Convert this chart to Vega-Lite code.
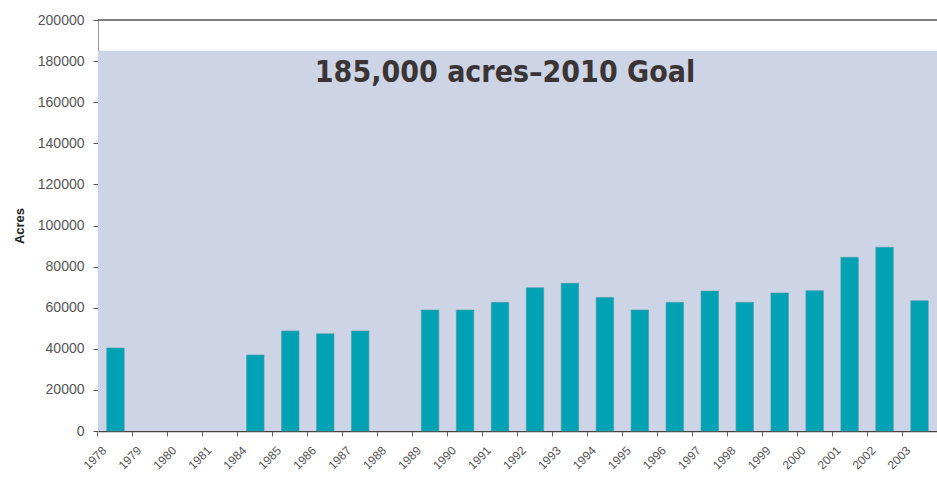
{
  "$schema": "https://vega.github.io/schema/vega-lite/v6.json",
  "width": 839,
  "height": 411,
  "autosize": {"type": "none"},
  "padding": {"left": 98, "top": 20, "right": 0, "bottom": 47},
  "background": "#ffffff",
  "config": {"view": {"stroke": null}, "font": "Liberation Sans"},
  "layer": [
    {
      "data": {"values": [{"low": 0, "high": 185000}]},
      "mark": {"type": "rect", "color": "#cdd4e6"},
      "encoding": {
        "y": {"field": "low", "type": "quantitative", "scale": {"domain": [0, 200000]}},
        "y2": {"field": "high"}
      }
    },
    {
      "data": {"values": [{"top": 200000}]},
      "mark": {"type": "rule", "color": "#555555", "strokeWidth": 1.5},
      "encoding": {
        "y": {"field": "top", "type": "quantitative"}
      }
    },
    {
      "data": {"values": [
        {"year": "1978", "acres": 40400},
        {"year": "1984", "acres": 37000},
        {"year": "1985", "acres": 48700},
        {"year": "1986", "acres": 47300},
        {"year": "1987", "acres": 48700},
        {"year": "1989", "acres": 58900},
        {"year": "1990", "acres": 58900},
        {"year": "1991", "acres": 62600},
        {"year": "1992", "acres": 69700},
        {"year": "1993", "acres": 71900},
        {"year": "1994", "acres": 65000},
        {"year": "1995", "acres": 58900},
        {"year": "1996", "acres": 62600},
        {"year": "1997", "acres": 68100},
        {"year": "1998", "acres": 62600},
        {"year": "1999", "acres": 67200},
        {"year": "2000", "acres": 68300},
        {"year": "2001", "acres": 84500},
        {"year": "2002", "acres": 89400},
        {"year": "2003", "acres": 63400}
      ]},
      "mark": {"type": "bar", "color": "#00a2b3", "stroke": "#4f9aa5", "strokeWidth": 0.6},
      "encoding": {
        "x": {
          "field": "year", "type": "nominal",
          "scale": {
            "domain": ["1978","1979","1980","1981","1984","1985","1986","1987","1988","1989","1990","1991","1992","1993","1994","1995","1996","1997","1998","1999","2000","2001","2002","2003"],
            "paddingInner": 0.5, "paddingOuter": 0.25
          },
          "axis": {
            "title": null,
            "labelAngle": -45,
            "labelAlign": "right",
            "labelBaseline": "middle",
            "bandPosition": -0.5,
            "labelOffset": -11,
            "labelPadding": 12,
            "labelFontSize": 12,
            "labelColor": "#555555",
            "tickColor": "#666666",
            "tickSize": 5,
            "domainColor": "#444444",
            "domainWidth": 1.5,
            "grid": false
          }
        },
        "y": {
          "field": "acres", "type": "quantitative",
          "axis": {
            "title": "Acres",
            "titleFontSize": 13,
            "titleFontWeight": "bold",
            "titleColor": "#222222",
            "titlePadding": 11,
            "values": [0,20000,40000,60000,80000,100000,120000,140000,160000,180000,200000],
            "format": "d",
            "labelFontSize": 14,
            "labelColor": "#555555",
            "labelPadding": 9,
            "tickSize": 5,
            "tickColor": "#555555",
            "domainColor": "#999999",
            "grid": false
          }
        }
      }
    },
    {
      "data": {"values": [{"label": "185,000 acres\u20132010 Goal", "x": "1991", "y": 174000}]},
      "mark": {"type": "text", "font": "DejaVu Sans Condensed", "fontWeight": "bold", "fontSize": 30, "color": "#3b3434", "align": "center", "baseline": "middle", "dx": 5},
      "encoding": {
        "x": {"field": "x", "type": "nominal"},
        "y": {"field": "y", "type": "quantitative"},
        "text": {"field": "label"}
      }
    }
  ]
}
